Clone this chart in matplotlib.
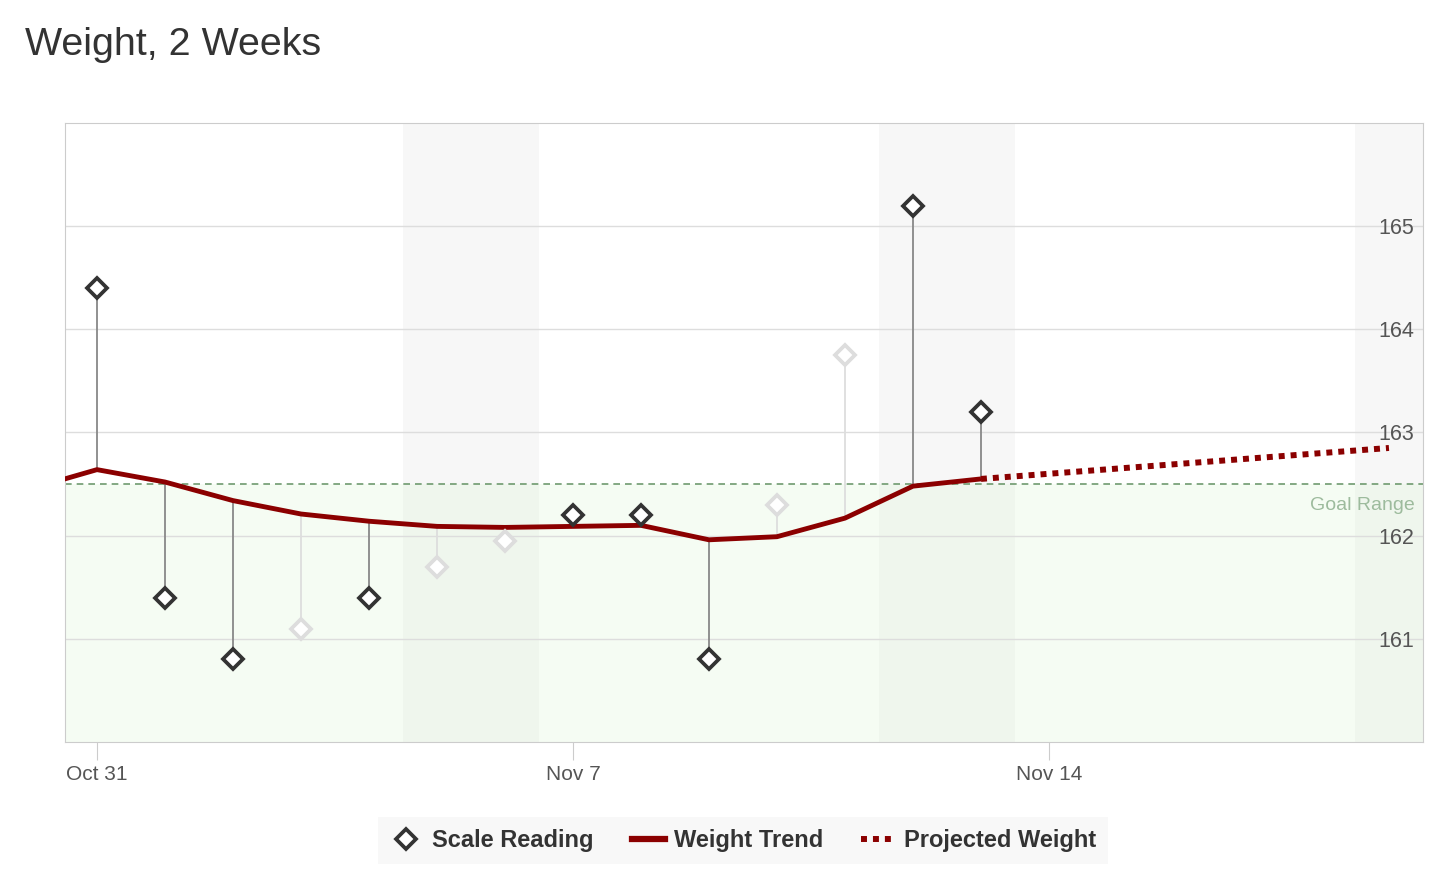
import matplotlib.pyplot as plt
from matplotlib.lines import Line2D
from matplotlib.transforms import blended_transform_factory

plt.rcParams['font.family'] = ['Liberation Sans', 'DejaVu Sans']

# days since Oct 31
days = list(range(0, 14))
readings = [164.4, 161.4, 160.8, 161.1, 161.4, 161.7, 161.95,
            162.2, 162.2, 160.8, 162.3, 163.75, 165.2, 163.2]
# False = interpolated (ghost) reading
measured = [True, True, True, False, True, False, False,
            True, True, True, False, False, True, True]
trend_days = list(range(-1, 14))
trend = [162.45, 162.64, 162.52, 162.34, 162.21, 162.14, 162.09, 162.08,
         162.09, 162.10, 161.96, 161.99, 162.17, 162.48, 162.55]
proj_days = [13, 19]
proj = [162.55, 162.85]
goal = 162.5
weekends = [(4.5, 6.5), (11.5, 13.5), (18.5, 20.5)]
tick_days = [0, 7, 14]
tick_labels = ["Oct 31", "Nov 7", "Nov 14"]

fig = plt.figure(figsize=(14.48, 8.91), dpi=100)
ax = fig.add_axes([0.0449, 0.1672, 0.9378, 0.6948])

red = "#8b0000"

for a, b in weekends:
    ax.axvspan(a, b, color="#f7f7f7", zorder=0, lw=0)
ax.axhspan(150, goal, color="#d8f5d0", alpha=0.25, zorder=0.5, lw=0)
ax.axhline(goal, color="#6f9a6f", lw=1.2, ls=(0, (4, 3)), zorder=1)

# stems from reading to trend
for d, r, m in zip(days, readings, measured):
    t = trend[trend_days.index(d)]
    ax.plot([d, d], [r, t], color="#888888" if m else "#dddddd", lw=1.3, zorder=2)

ax.plot(trend_days, trend, color=red, lw=3.5, zorder=3, solid_capstyle="butt")
ax.plot(proj_days, proj, color=red, lw=4.3, ls=(0, (1, 1)), zorder=3,
        dash_capstyle="butt")

for d, r, m in zip(days, readings, measured):
    ax.plot(d, r, marker="D", ms=10.5, mfc="white", mew=2.7,
            mec="#333333" if m else "#dddddd", zorder=4)

ax.set_xlim(-0.47, 19.5)
ax.set_ylim(160, 166)

ax.set_yticks([161, 162, 163, 164, 165])
ax.yaxis.tick_right()
ax.tick_params(axis="y", length=0, pad=-6, labelsize=15.5, labelcolor="#555555")
for lab in ax.get_yticklabels():
    lab.set_ha("right")
ax.grid(True, axis="y", color="#dddddd", lw=1, zorder=0.8)

ax.set_xticks(tick_days)
ax.set_xticklabels(tick_labels)
ax.tick_params(axis="x", length=13, color="#cccccc", pad=3.5, labelsize=15,
               labelcolor="#555555")

for s in ax.spines.values():
    s.set_color("#cccccc")

trans = blended_transform_factory(ax.transAxes, ax.transData)
ax.text(0.9941, goal - 0.13, "Goal Range", transform=trans, ha="right",
        va="top", fontsize=14, color="#9dbb9d")

fig.text(0.0173, 0.949, "Weight, 2 Weeks", fontsize=28.4, color="#333333",
         va="center", ha="left")

handles = [
    Line2D([], [], marker="D", ls="none", ms=10.5, mfc="white", mew=2.7,
           mec="#333333"),
    Line2D([], [], color=red, lw=4.5),
    Line2D([], [], color=red, lw=4.3, ls=(0, (1, 1)), dash_capstyle="butt"),
]
leg = fig.legend(handles, ["Scale Reading", "Weight Trend", "Projected Weight"],
                 loc="center", bbox_to_anchor=(0.513, 0.0566), ncol=3,
                 frameon=True, facecolor="#f7f7f7", edgecolor="none",
                 fancybox=False, handlelength=1.4, handletextpad=0.4,
                 columnspacing=1.6, prop={"weight": "bold", "size": 17},
                 borderpad=0.5, borderaxespad=0)
for t in leg.get_texts():
    t.set_color("#333333")

fig.savefig("out.png", dpi=100)
